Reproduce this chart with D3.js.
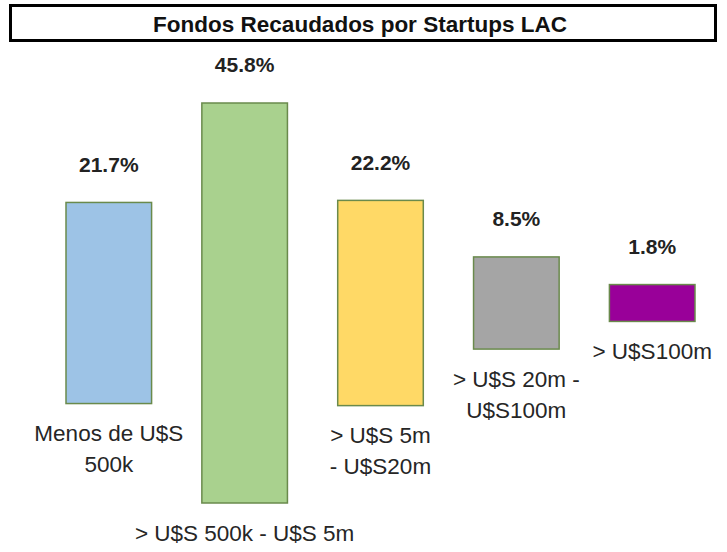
<!DOCTYPE html>
<html>
<head>
<meta charset="utf-8">
<script src="https://d3js.org/d3.v7.min.js"></script>
<style>
  body { margin: 0; background: #fff; }
  svg { display: block; }
</style>
</head>
<body>
<svg id="chart"></svg>
<script>
  // data
  const title = "Fondos Recaudados por Startups LAC";
  const categories = [
    ["Menos de U$S", "500k"],
    ["> U$S 500k - U$S 5m"],
    ["> U$S 5m", "- U$S20m"],
    ["> U$S 20m -", "U$S100m"],
    ["> U$S100m"]
  ];
  const values = [21.7, 45.8, 22.2, 8.5, 1.8];
  const colors = ["#9dc3e6", "#a9d18e", "#ffd966", "#a5a5a5", "#990099"];

  const W = 727, H = 552;
  const midY = 303;

  const svg = d3.select("#chart").attr("width", W).attr("height", H);

  // title box
  svg.append("rect")
    .attr("x", 10.5).attr("y", 5.5)
    .attr("width", 705).attr("height", 35)
    .attr("fill", "#fff").attr("stroke", "#000").attr("stroke-width", 3);
  svg.append("text")
    .attr("x", 360).attr("y", 24)
    .attr("dy", "0.35em")
    .attr("text-anchor", "middle")
    .attr("font-family", "'Liberation Sans', Arial, sans-serif")
    .attr("font-weight", "bold")
    .attr("font-size", 22.5)
    .attr("fill", "#111")
    .text(title);

  const idx = d3.range(values.length);

  const x = d3.scaleBand()
    .domain(idx)
    .range([66, 695])
    .paddingInner(0.37)
    .paddingOuter(0);

  // bar height (floating bars centred on a common line)
  const h = d3.scaleLinear()
    .domain([0, d3.max(values)])
    .range([22, 400]);

  const bars = svg.append("g");
  bars.selectAll("rect").data(idx).enter()
    .append("rect")
    .attr("x", i => x(i))
    .attr("y", i => midY - h(values[i]) / 2)
    .attr("width", x.bandwidth())
    .attr("height", i => h(values[i]))
    .attr("fill", i => colors[i])
    .attr("stroke", "#6a8a4c")
    .attr("stroke-width", 1.5);

  // value labels
  svg.append("g").selectAll("text").data(idx).enter()
    .append("text")
    .attr("x", i => x(i) + x.bandwidth() / 2)
    .attr("y", i => midY - h(values[i]) / 2 - 38)
    .attr("dy", "0.35em")
    .attr("text-anchor", "middle")
    .attr("font-family", "'Liberation Sans', Arial, sans-serif")
    .attr("font-weight", "bold")
    .attr("font-size", 21)
    .attr("fill", "#222")
    .text(i => values[i].toFixed(1) + "%");

  // category labels under each bar
  const cat = svg.append("g").selectAll("text").data(idx).enter()
    .append("text")
    .attr("text-anchor", "middle")
    .attr("font-family", "'Liberation Sans', Arial, sans-serif")
    .attr("font-size", 22.5)
    .attr("fill", "#262626");
  cat.each(function (i) {
    const t = d3.select(this);
    const cx = x(i) + x.bandwidth() / 2;
    const y0 = midY + h(values[i]) / 2 + 30;
    categories[i].forEach((line, k) => {
      t.append("tspan")
        .attr("x", cx)
        .attr("y", y0 + k * 31)
        .attr("dy", "0.35em")
        .text(line);
    });
  });
</script>
</body>
</html>
